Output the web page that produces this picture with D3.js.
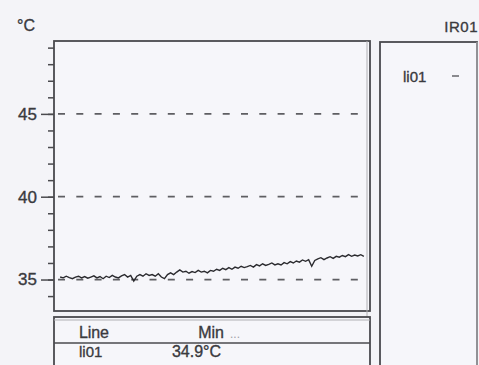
<!DOCTYPE html>
<html>
<head>
<meta charset="utf-8">
<script src="https://cdn.jsdelivr.net/npm/d3@7"></script>
<style>
  html, body { margin: 0; padding: 0; background: #f4f4f8; }
  svg { display: block; font-family: "Liberation Sans", Arial, sans-serif; }
  .lbl { stroke: #3a3a3e; stroke-width: 0.35; }
</style>
</head>
<body>
<svg id="chart" width="479" height="365"></svg>
<script>
// Temperature readings for channel li01 (°C), one per sample
const temps = [
  35.15, 35.1, 35.2, 35.12, 35.05, 35.15, 35.2, 35.1, 35.18, 35.08,
  35.15, 35.22, 35.1, 35.18, 35.05, 35.2, 35.12, 35.25, 35.15, 35.1,
  35.22, 35.3, 35.15, 35.25, 34.9, 35.2, 35.3, 35.2, 35.35, 35.25,
  35.3, 35.2, 35.35, 35.15, 35.05, 35.3, 35.4, 35.3, 35.45, 35.58,
  35.45, 35.5, 35.38, 35.48, 35.42, 35.55, 35.45, 35.5, 35.4, 35.55,
  35.5, 35.62, 35.55, 35.68, 35.6, 35.72, 35.62, 35.75, 35.68, 35.8,
  35.72, 35.78, 35.85, 35.75, 35.9, 35.82, 35.95, 35.85, 35.92, 36.0,
  35.88, 35.95, 35.88, 36.02, 35.95, 36.08, 36.0, 36.12, 36.05, 36.18,
  36.1, 36.2, 35.8, 36.15, 36.25, 36.32, 36.2, 36.3, 36.38, 36.28,
  36.4, 36.35, 36.45, 36.38, 36.5, 36.4, 36.48, 36.42, 36.5, 36.4
];
const majorTicks = [35, 40, 45];
const minorTicks = [34, 35, 36, 37, 38, 39, 40, 41, 42, 43, 44, 45, 46, 47, 48, 49];
const title = "IR01";
const unitLabel = "°C";
const seriesName = "li01";
const tableHeaders = ["Line", "Min"];

const svg = d3.select("#chart");
const plot = { left: 54, top: 41, right: 370, bottom: 311 };

const x = d3.scaleLinear().domain([-2, temps.length + 1]).range([plot.left, plot.right]);
const y = d3.scaleLinear().domain([33.1, 49.4]).range([plot.bottom, plot.top]);

const ink = "#3a3a3e";

// Title and unit
svg.append("text").attr("class", "lbl").attr("x", 478).attr("y", 32).attr("text-anchor", "end")
  .attr("font-size", 15).attr("fill", ink).attr("letter-spacing", 0.5).text(title);
svg.append("text").attr("class", "lbl").attr("x", 17).attr("y", 31)
  .attr("font-size", 16).attr("fill", ink).text(unitLabel);

// Plot frame
svg.append("rect")
  .attr("x", plot.left).attr("y", plot.top)
  .attr("width", plot.right - plot.left).attr("height", plot.bottom - plot.top)
  .attr("fill", "#f6f6fa").attr("stroke", "#4a4a4e").attr("stroke-width", 1.8);
svg.append("line")
  .attr("x1", plot.right - 3).attr("x2", plot.right - 3)
  .attr("y1", plot.top).attr("y2", 365)
  .attr("stroke", "#b0b0b4").attr("stroke-width", 1);

// Dashed reference lines at major values
svg.append("g").selectAll("line").data(majorTicks).join("line")
  .attr("x1", plot.left + 4).attr("x2", plot.right)
  .attr("y1", d => y(d)).attr("y2", d => y(d))
  .attr("stroke", "#5e5e62").attr("stroke-width", 1.8)
  .attr("stroke-dasharray", "7 11.3");

// Minor ticks
const minorAxis = d3.axisLeft(y).tickValues(minorTicks).tickSize(6).tickFormat("");
const gMinor = svg.append("g").attr("transform", `translate(${plot.left},0)`).call(minorAxis);
gMinor.select(".domain").remove();
gMinor.selectAll("line").attr("stroke", "#4a4a4e").attr("stroke-width", 1.5);

// Major ticks with labels
const majorAxis = d3.axisLeft(y).tickValues(majorTicks).tickSize(13).tickPadding(4).tickFormat(d3.format("d"));
const gMajor = svg.append("g").attr("transform", `translate(${plot.left},0)`).call(majorAxis);
gMajor.select(".domain").remove();
gMajor.selectAll("line").attr("stroke", "#4a4a4e").attr("stroke-width", 1.5);
gMajor.selectAll("text").attr("class", "lbl").attr("font-size", 17).attr("fill", ink)
  .attr("font-family", "'Liberation Sans', Arial, sans-serif");

// Temperature trace
const line = d3.line().x((d, i) => x(i)).y(d => y(d));
svg.append("path").datum(temps)
  .attr("d", line).attr("fill", "none")
  .attr("stroke", "#2a2a2e").attr("stroke-width", 1.4);

// Statistics table below the plot
const table = { left: 54, top: 317, right: 370 };
svg.append("rect")
  .attr("x", table.left).attr("y", table.top)
  .attr("width", table.right - table.left).attr("height", 60)
  .attr("fill", "#f6f6fa").attr("stroke", "#4a4a4e").attr("stroke-width", 1.8);
svg.append("line").attr("x1", table.left).attr("x2", table.right)
  .attr("y1", 320).attr("y2", 320).attr("stroke", "#b0b0b4");
svg.append("line").attr("x1", table.left).attr("x2", table.right)
  .attr("y1", 343).attr("y2", 343).attr("stroke", "#4a4a4e").attr("stroke-width", 1.5);
svg.append("text").attr("class", "lbl").attr("x", 79).attr("y", 338).attr("font-size", 16).attr("fill", ink)
  .attr("textLength", 30).text(tableHeaders[0]);
svg.append("text").attr("class", "lbl").attr("x", 224).attr("y", 338).attr("text-anchor", "end").attr("font-size", 16).attr("fill", ink).text(tableHeaders[1]);
svg.append("text").attr("x", 230).attr("y", 338).attr("font-size", 12).attr("fill", "#a0a0a6").text("...");
svg.append("text").attr("class", "lbl").attr("x", 79).attr("y", 357).attr("font-size", 15).attr("fill", ink).text(seriesName);
svg.append("text").attr("class", "lbl").attr("x", 221).attr("y", 357).attr("text-anchor", "end").attr("font-size", 16).attr("fill", ink)
  .text(d3.format(".1f")(d3.min(temps)) + "°C");

// Legend panel on the right
svg.append("rect")
  .attr("x", 380).attr("y", 42).attr("width", 97).attr("height", 330)
  .attr("fill", "#f6f6fa").attr("stroke", "#4a4a4e").attr("stroke-width", 1.8);
svg.append("line").attr("x1", 477).attr("x2", 477).attr("y1", 42).attr("y2", 365)
  .attr("stroke", "#c8c8cc").attr("stroke-width", 1);
svg.append("text").attr("class", "lbl").attr("x", 403).attr("y", 82).attr("font-size", 15).attr("fill", ink).text(seriesName);
svg.append("line").attr("x1", 452).attr("x2", 459).attr("y1", 76).attr("y2", 76)
  .attr("stroke", "#707074").attr("stroke-width", 1.6);
</script>
</body>
</html>
